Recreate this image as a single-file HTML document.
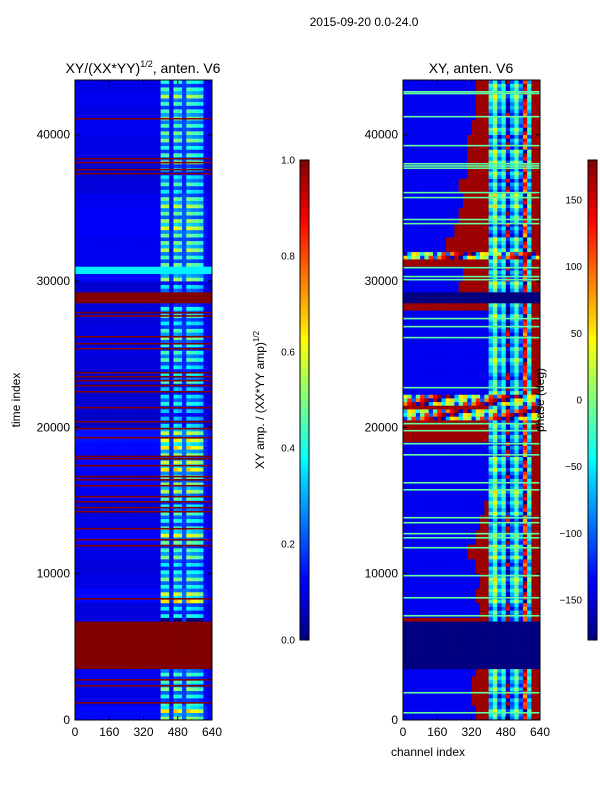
<!DOCTYPE html>
<html><head><meta charset="utf-8"><style>
body{margin:0;background:#fff;}
svg text{font-family:"Liberation Sans",sans-serif;fill:#000;}
</style></head><body>
<svg id="fig" width="600" height="800" xmlns="http://www.w3.org/2000/svg">
<defs>
<linearGradient id="jetg" x1="0" y1="1" x2="0" y2="0">
<stop offset="0" stop-color="#000080"/><stop offset="0.11" stop-color="#0000ff"/><stop offset="0.125" stop-color="#0000ff"/>
<stop offset="0.34" stop-color="#00d4ff"/><stop offset="0.375" stop-color="#00ffff"/><stop offset="0.5" stop-color="#7fff7f"/>
<stop offset="0.625" stop-color="#ffff00"/><stop offset="0.66" stop-color="#ffd400"/><stop offset="0.875" stop-color="#ff0000"/><stop offset="1" stop-color="#800000"/>
</linearGradient>
</defs>
<text x="364" y="26" font-size="12" text-anchor="middle">2015-09-20 0.0-24.0</text>
<text x="143" y="73" font-size="14" text-anchor="middle">XY/(XX*YY)<tspan font-size="9" dy="-6">1/2</tspan><tspan dy="6">, anten. V6</tspan></text>
<text x="471" y="73" font-size="14" text-anchor="middle">XY, anten. V6</text>
<g id="left-map"></g>
<g id="right-map"></g>
<g id="axes"></g>
<rect x="300" y="160" width="9" height="480" fill="url(#jetg)" stroke="#000" stroke-width="1"/>
<rect x="588" y="160" width="9" height="480" fill="url(#jetg)" stroke="#000" stroke-width="1"/>
<text transform="translate(264,400) rotate(-90)" font-size="12" text-anchor="middle">XY amp. / (XX*YY amp)<tspan font-size="8" dy="-5">1/2</tspan></text>
<text transform="translate(544,400) rotate(-90)" font-size="12" text-anchor="middle">phase (deg)</text>
<text transform="translate(20,400) rotate(-90)" font-size="12" text-anchor="middle">time index</text>
<text x="428" y="756" font-size="12" text-anchor="middle">channel index</text>
</svg>
<script>
const timeTicks=[0,10000,20000,30000,40000];
const chanTicks=[0,160,320,480,640];
const ampTicks=["0.0","0.2","0.4","0.6","0.8","1.0"];
const phaseTicks=[-150,-100,-50,0,50,100,150];
const rowGain=[1.3,1.0,1.0,1.1,0,0,0,0.9,1.3,1.0,0.9,1.0,1.2,1.0,0.9,1.1,1.2,1.3,1.3,1.4,0.7,0.8,0.8,0.9,0.9,1.0,1.0,0.9,0.9,0.8,1.3,1.1,1.1,1.2,1.2,1.1,0.9,0.8,1.0,1.0,1.1,1.0,1.1,1.0];
const colProfile=[0.1,0.1,0.1,0.1,0.1,0.1,0.1,0.1,0.1,0.1,0.1,0.1,0.1,0.1,0.1,0.1,0.1,0.1,0.1,0.1,0.4,0.4,0.13,0.42,0.38,0.18,0.42,0.38,0.38,0.34,0.12,0.1];
const stripePattern=[1,0.55,1.25,0.7,1.1,0.45];
const redBlock=[3400,6700];
const redBand=[28450,29050];
const cyanBand=[30500,30850];
const redLines=[41080,38350,38080,37600,37330,27830,27600,26180,25700,25360,23720,23450,23180,22840,22420,21330,20370,19900,19280,18000,17840,17370,16620,16400,16000,15250,14900,14500,14220,13060,12310,11900,8270,2730,2320,1160];
const redStart=[330,320,320,330,0,0,0,360,340,360,330,300,340,360,380,400,640,640,640,0,0,0,640,640,400,640,640,640,0,260,280,0,200,240,260,280,260,300,300,300,320,330,340,340];
const midPhase=[-100,-40,-130,-80,160,-120,-60,-140,100,-90];
const rowShift=[20,-20,10,30,0,0,0,-20,20,40,-10,30,10,-30,20,40,-10,20,-30,0,0,0,10,-20,30,10,-20,20,0,30,-10,0,20,-30,10,40,-20,10,30,-20,20,-10,30,10];
const noiseVals=[170,-10,60,-150,120,-40,160,-100,30,-170,90,10,-70,140,-120,50];
const greenLines=[42920,42800,41220,39240,38000,37850,37700,36030,35690,34190,33910,30900,30290,30080,27420,26870,26120,22700,20240,19760,18870,18110,16200,15720,13810,13470,12720,12440,11760,9850,8340,7110,1850,480];
const noiseBands=[[31300,32000],[21950,22150],[21330,21880],[20370,21060]];
const navyBands=[[3400,6700],[28450,29050]];

const TMAX=43740;
function xL(ch){return 75+ch/640*137;}
function xR(ch){return 403+ch/640*137;}
function yT(t){return 720-t/TMAX*640;}
function jet(v){v=Math.max(0,Math.min(1,v));const c=x=>Math.round(255*Math.max(0,Math.min(1,x)));
return `rgb(${c(1.5-Math.abs(4*v-3))},${c(1.5-Math.abs(4*v-2))},${c(1.5-Math.abs(4*v-1))})`;}
const NS="http://www.w3.org/2000/svg";
function mk(tag,attrs,parent){const e=document.createElementNS(NS,tag);for(const k in attrs)e.setAttribute(k,attrs[k]);parent.appendChild(e);return e;}
function inB(t,b){return t>=b[0]&&t<b[1];}

const L=document.getElementById('left-map');
const R=document.getElementById('right-map');
const DT=250;
for(let r=0;r*DT<TMAX;r++){
  const t=r*DT, bin=Math.min(43,Math.floor(t/1000));
  const y1=yT(Math.min(TMAX,t+DT)), h=yT(t)-y1+0.3;
  for(let c=0;c<32;c++){
    const ch=c*20;
    let v=colProfile[c]*(rowGain[bin]||1);
    if(colProfile[c]>0.3) v=colProfile[c]*rowGain[bin]*stripePattern[r%6];
    if(inB(t,cyanBand)) v=0.36;
    if(inB(t,redBlock)||inB(t,redBand)) v=1;
    const a=mk('rect',{x:xL(ch),y:y1,width:137/32+0.3,height:h,fill:jet(v)},L);
    
    
    let p;
    if(c<20){p=(ch<redStart[bin])?-140:170;}
    else if(c<30){p=midPhase[c-20]+rowShift[bin]+(r%3)*30;p=((p+180)%360+360)%360-180;}
    else p=170;
    if(noiseBands.some(b=>inB(t,b))) p=noiseVals[(r*7+c*3)%noiseVals.length];
    if(navyBands.some(b=>inB(t,b))) p=-180;
    const q=mk('rect',{x:xR(ch),y:y1,width:137/32+0.3,height:h,fill:jet((p+180)/360)},R);
    
    
  }
}
redLines.forEach(t=>{const l=mk('rect',{x:75,y:yT(t)-1,width:137,height:1.6,fill:jet(1)},L);

});
greenLines.forEach(t=>{const l=mk('rect',{x:403,y:yT(t)-1,width:137,height:1.6,fill:jet(0.47)},R);

});

const A=document.getElementById('axes');
[75,403].forEach((x0,i)=>{
  const f=mk('rect',{x:x0,y:80,width:137,height:640,fill:'none',stroke:'#000','stroke-width':1},A);
  
  
  timeTicks.forEach(t=>{const y=yT(t);
    mk('line',{x1:x0,x2:x0+4,y1:y,y2:y,stroke:'#000'},A);
    mk('line',{x1:x0+137,x2:x0+133,y1:y,y2:y,stroke:'#000'},A);
    const tx=mk('text',{x:x0-5,y:y+4,'font-size':12,'text-anchor':'end'},A);tx.textContent=t;
    
    });
  chanTicks.forEach(ch=>{const x=x0+ch/640*137;
    mk('line',{x1:x,x2:x,y1:720,y2:716,stroke:'#000'},A);
    mk('line',{x1:x,x2:x,y1:80,y2:84,stroke:'#000'},A);
    const tx=mk('text',{x:x,y:736,'font-size':12,'text-anchor':'middle'},A);tx.textContent=ch;
    
    });
});
ampTicks.forEach((s,i)=>{const y=640-i*96;
  mk('line',{x1:300,x2:303,y1:y,y2:y,stroke:'#000'},A);mk('line',{x1:309,x2:306,y1:y,y2:y,stroke:'#000'},A);
  const tx=mk('text',{x:295,y:y+3.5,'font-size':10,'text-anchor':'end'},A);tx.textContent=s;
  
  });
phaseTicks.forEach(v=>{const y=400-v/180*240;
  mk('line',{x1:588,x2:591,y1:y,y2:y,stroke:'#000'},A);mk('line',{x1:597,x2:594,y1:y,y2:y,stroke:'#000'},A);
  const tx=mk('text',{x:582,y:y+3.5,'font-size':10,'text-anchor':'end'},A);tx.textContent=(v<0?'\u2212'+(-v):v);
  
  });
</script>
</body></html>
